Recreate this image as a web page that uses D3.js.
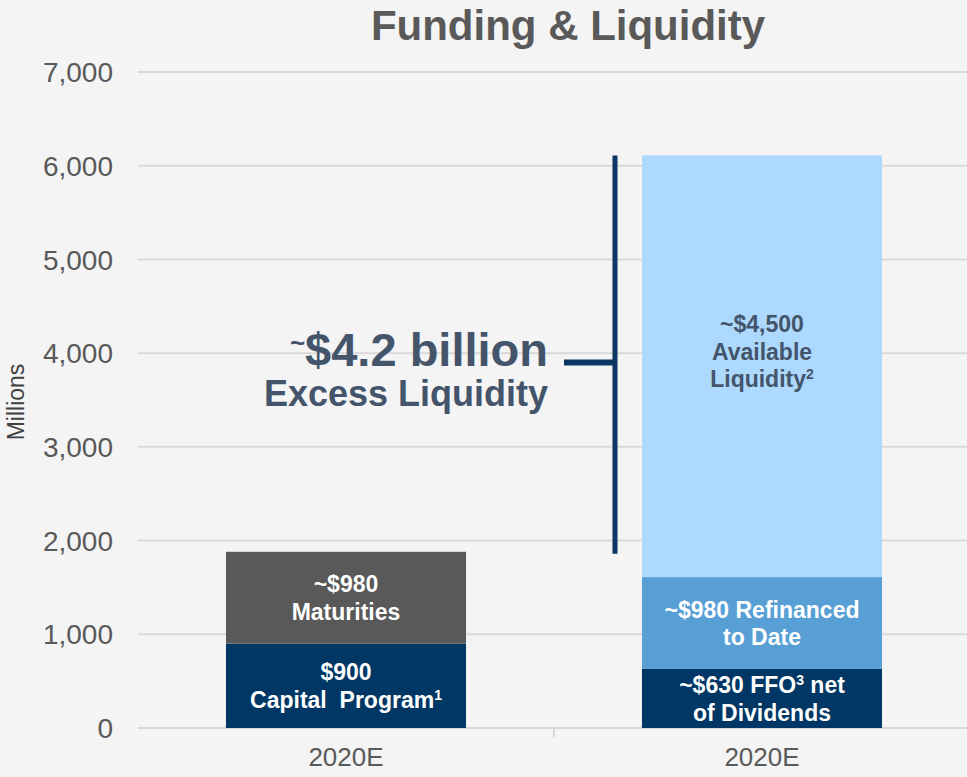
<!DOCTYPE html>
<html>
<head>
<meta charset="utf-8">
<script src="https://cdn.jsdelivr.net/npm/d3@7"></script>
<style>
  html, body { margin: 0; padding: 0; background: #f4f4f4; }
  svg { display: block; font-family: Arial, "Liberation Sans", sans-serif; }
  svg text { white-space: pre; }
</style>
</head>
<body>
<div id="chart"></div>
<script>
// categories (both bars are labelled 2020E)
const categories = ["uses", "sources"];
const categoryLabels = ["2020E", "2020E"];

// stacked segments, bottom to top, in millions
const usesValues = [900, 980];           // capital program, maturities
const sourcesValues = [630, 980, 4500];  // FFO net of dividends, refinanced, available liquidity

const yTicks = [0, 1000, 2000, 3000, 4000, 5000, 6000, 7000];

const usesLabels = [
  [[{ t: "$900" }], [{ t: "Capital  Program" }, { t: "1", sup: true }]],
  [[{ t: "~$980" }], [{ t: "Maturities" }]]
];
const sourcesLabels = [
  [[{ t: "~$630 FFO" }, { t: "3", sup: true }, { t: " net" }], [{ t: "of Dividends" }]],
  [[{ t: "~$980 Refinanced" }], [{ t: "to Date" }]],
  [[{ t: "~$4,500" }], [{ t: "Available" }], [{ t: "Liquidity" }, { t: "2", sup: true }]]
];

const usesColors = ["#003764", "#595959"];
const sourcesColors = ["#003764", "#589fd5", "#acd9fd"];
const sourcesText = ["#ffffff", "#ffffff", "#44546a"];

function draw() {
  const dimensions = {
    width: 967,
    height: 777,
    left: 138,
    right: 970,
    top: 72,
    bottom: 728
  };

  const wrapper = d3.select("#chart")
    .append("svg")
    .attr("width", dimensions.width)
    .attr("height", dimensions.height);

  wrapper.append("rect")
    .attr("width", dimensions.width)
    .attr("height", dimensions.height)
    .attr("fill", "#f4f4f4");

  const x = d3.scaleBand()
    .domain(categories)
    .range([dimensions.left, dimensions.right])
    .paddingInner(0.423)
    .paddingOuter(0.2115);

  const y = d3.scaleLinear()
    .domain([0, 7000])
    .range([dimensions.bottom, dimensions.top]);

  // gridlines
  wrapper.append("g")
    .selectAll("line")
    .data(yTicks)
    .join("line")
    .attr("x1", dimensions.left)
    .attr("x2", dimensions.width)
    .attr("y1", d => y(d))
    .attr("y2", d => y(d))
    .attr("stroke", "#d9d9d9")
    .attr("stroke-width", 2);

  // y tick labels
  wrapper.append("g")
    .selectAll("text")
    .data(yTicks)
    .join("text")
    .attr("x", 113)
    .attr("y", d => y(d))
    .attr("dy", "0.36em")
    .attr("text-anchor", "end")
    .attr("font-size", 28)
    .attr("fill", "#595959")
    .text(d3.format(","));

  wrapper.append("text")
    .attr("transform", `translate(24, ${y(3500) + 2}) rotate(-90)`)
    .attr("text-anchor", "middle")
    .attr("font-size", 23)
    .attr("fill", "#404040")
    .text("Millions");

  // category divider tick
  const step = x.step();
  wrapper.append("line")
    .attr("x1", x("sources") - (step - x.bandwidth()) / 2)
    .attr("x2", x("sources") - (step - x.bandwidth()) / 2)
    .attr("y1", y(0))
    .attr("y2", y(0) + 9)
    .attr("stroke", "#d9d9d9")
    .attr("stroke-width", 2);

  wrapper.append("g")
    .selectAll("text")
    .data(categories)
    .join("text")
    .attr("x", d => x(d) + x.bandwidth() / 2)
    .attr("y", 766)
    .attr("text-anchor", "middle")
    .attr("font-size", 26)
    .attr("fill", "#595959")
    .text((d, i) => categoryLabels[i]);

  // stacked segments
  function stack(values) {
    let acc = 0;
    return values.map(v => { const s = { y0: acc, y1: acc + v }; acc += v; return s; });
  }

  const bars = [
    { key: "uses", segs: stack(usesValues), colors: usesColors, labels: usesLabels, text: usesColors.map(() => "#ffffff") },
    { key: "sources", segs: stack(sourcesValues), colors: sourcesColors, labels: sourcesLabels, text: sourcesText }
  ];

  const bounds = wrapper.append("g");

  bars.forEach(bar => {
    const cx = x(bar.key) + x.bandwidth() / 2;
    bar.segs.forEach((s, i) => {
      bounds.append("rect")
        .attr("x", x(bar.key))
        .attr("width", x.bandwidth())
        .attr("y", y(s.y1))
        .attr("height", y(s.y0) - y(s.y1))
        .attr("fill", bar.colors[i]);

      const lines = bar.labels[i];
      const lh = 27.5;
      let mid = (y(s.y0) + y(s.y1)) / 2;
      if (lines.length > 2) mid -= 15;
      const first = mid - (lines.length - 1) * lh / 2;
      const t = bounds.append("text")
        .attr("text-anchor", "middle")
        .attr("font-size", 23)
        .attr("font-weight", "bold")
        .attr("fill", bar.text[i]);
      lines.forEach((parts, li) => {
        const line = t.append("tspan")
          .attr("x", cx)
          .attr("y", first + li * lh)
          .attr("dy", "0.36em");
        parts.forEach(p => {
          line.append("tspan")
            .attr("font-size", p.sup ? 14 : null)
            .attr("baseline-shift", p.sup ? "super" : null)
            .text(p.t);
        });
      });
    });
  });

  // excess liquidity bracket: from top of uses bar to top of sources bar
  const usesTotal = d3.sum(usesValues);
  const sourcesTotal = d3.sum(sourcesValues);
  const bx = x("sources") - 27;
  const stubY = y((usesTotal + sourcesTotal) / 2) + 9;

  bounds.append("line")
    .attr("x1", bx).attr("x2", bx)
    .attr("y1", y(sourcesTotal)).attr("y2", y(usesTotal) + 2)
    .attr("stroke", "#0a3764")
    .attr("stroke-width", 5);

  bounds.append("line")
    .attr("x1", bx - 51).attr("x2", bx)
    .attr("y1", stubY).attr("y2", stubY)
    .attr("stroke", "#0a3764")
    .attr("stroke-width", 6);

  const big = bounds.append("text")
    .attr("x", 548)
    .attr("y", 366)
    .attr("text-anchor", "end")
    .attr("font-weight", "bold")
    .attr("font-size", 47)
    .attr("fill", "#44546a");
  big.append("tspan").attr("font-size", 26).attr("baseline-shift", "55%").text("~");
  big.append("tspan").text("$4.2 billion");

  bounds.append("text")
    .attr("x", 548)
    .attr("y", 406)
    .attr("text-anchor", "end")
    .attr("font-weight", "bold")
    .attr("font-size", 36)
    .attr("fill", "#44546a")
    .text("Excess Liquidity");

  // title
  wrapper.append("text")
    .attr("x", 568)
    .attr("y", 40)
    .attr("text-anchor", "middle")
    .attr("font-size", 42)
    .attr("font-weight", "bold")
    .attr("fill", "#595959")
    .text("Funding & Liquidity");
}
draw();
</script>
</body>
</html>
